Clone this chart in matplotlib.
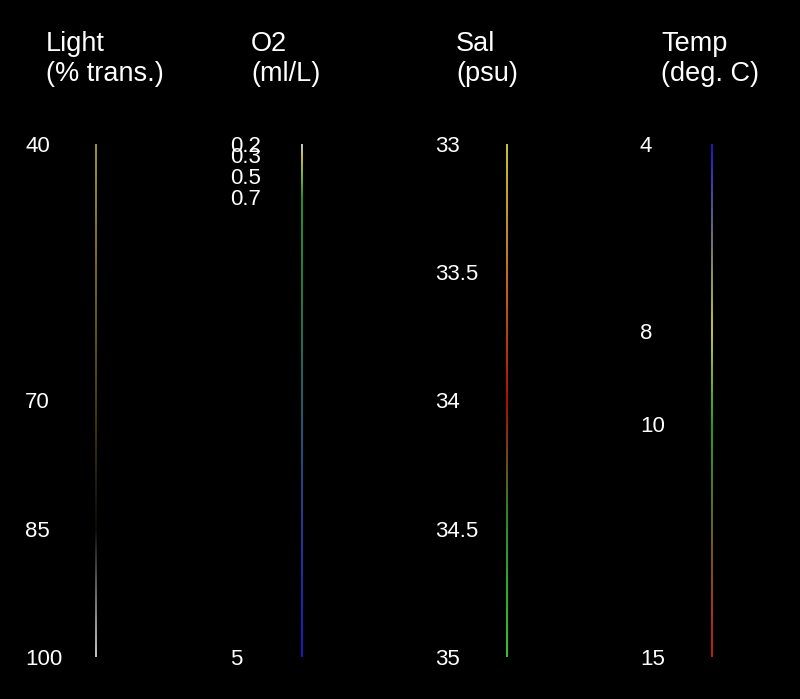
import numpy as np
import matplotlib.pyplot as plt
from matplotlib.collections import LineCollection
from matplotlib.colors import LinearSegmentedColormap

plt.rcParams['font.family'] = ['Liberation Sans', 'DejaVu Sans']

# Variables shown as vertical colour scales
titles = ['Light\n(% trans.)', 'O2\n(ml/L)', 'Sal\n(psu)', 'Temp\n(deg. C)']

light_stops = [40, 70, 85, 100]
o2_stops = [0.2, 0.3, 0.5, 0.7, 5]
sal_stops = [33, 33.5, 34, 34.5, 35]
temp_stops = [4, 8, 10, 15]

light_labels = ['40', '70', '85', '100']
o2_labels = ['0.2', '0.3', '0.5', '0.7', '5']
sal_labels = ['33', '33.5', '34', '34.5', '35']
temp_labels = ['4', '8', '10', '15']

light_colors = ['#d0b848', '#605010', '#101008', '#ffffff']
o2_colors = ['#ffffff', '#ffff40', '#a0e040', '#30c030', '#2020ff']
sal_colors = ['#ffff40', '#ff9020', '#e01010', '#30c030', '#40ff40']
temp_colors = ['#2020ff', '#ffff40', '#30d030', '#ff2020']

all_stops = [light_stops, o2_stops, sal_stops, temp_stops]
all_labels = [light_labels, o2_labels, sal_labels, temp_labels]
all_colors = [light_colors, o2_colors, sal_colors, temp_colors]

W, H = 800, 699
line_x = [96, 301, 506, 711]
top_px, bot_px = 144, 657

fig = plt.figure(figsize=(W / 100, H / 100), dpi=100, facecolor='black')

for i in range(4):
    stops = np.array(all_stops[i], dtype=float)
    lo, hi = stops.min(), stops.max()
    ax = fig.add_axes([(line_x[i] - 80) / W, (H - bot_px) / H, 100 / W, (bot_px - top_px) / H])
    ax.set_facecolor('black')
    ax.set_xlim(0, 100)
    ax.set_ylim(hi, lo)
    ax.axis('off')

    # gradient line through the colour stops
    cmap = LinearSegmentedColormap.from_list(
        'g%d' % i, list(zip((stops - lo) / (hi - lo), all_colors[i])))
    ys = np.linspace(lo, hi, 500)
    pts = np.column_stack([np.full_like(ys, 80.5), ys]).reshape(-1, 1, 2)
    segs = np.concatenate([pts[:-1], pts[1:]], axis=1)
    lc = LineCollection(segs, colors=cmap((ys[:-1] - lo) / (hi - lo)), linewidth=1.1)
    ax.add_collection(lc)

    for v, lab in zip(stops, all_labels[i]):
        ax.text(9, v, lab, color='white', fontsize=16, ha='left', va='center_baseline')

    fig.text((line_x[i] - 50) / W, 1 - 31 / H, titles[i], color='white',
             fontsize=19.5, ha='left', va='top', linespacing=1.2)

fig.savefig('out.png', dpi=100, facecolor='black')
